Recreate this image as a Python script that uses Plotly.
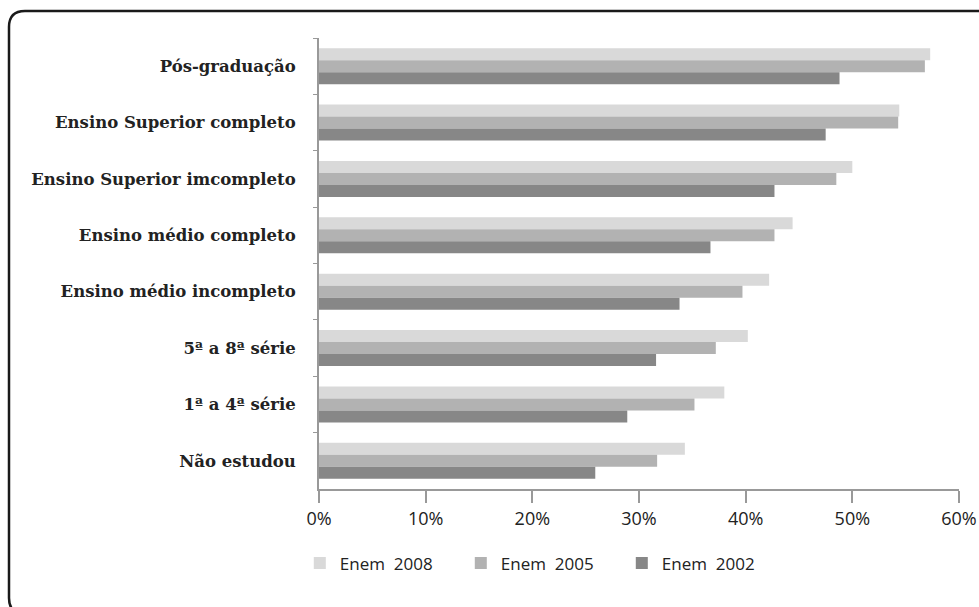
import plotly.graph_objects as go

# Escolaridade (de cima para baixo) e percentuais por edição do Enem
categorias = [
    "Pós-graduação",
    "Ensino Superior completo",
    "Ensino Superior imcompleto",
    "Ensino médio completo",
    "Ensino médio incompleto",
    "5ª a 8ª série",
    "1ª a 4ª série",
    "Não estudou",
]
enem_2008 = [57.3, 54.4, 50.0, 44.4, 42.2, 40.2, 38.0, 34.3]
enem_2005 = [56.8, 54.3, 48.5, 42.7, 39.7, 37.2, 35.2, 31.7]
enem_2002 = [48.8, 47.5, 42.7, 36.7, 33.8, 31.6, 28.9, 25.9]

series = [
    ("Enem  2008", enem_2008, "#d9d9d9"),
    ("Enem  2005", enem_2005, "#b2b2b2"),
    ("Enem  2002", enem_2002, "#878787"),
]

W, H = 979, 607
L, R, T, B = 319, 20, 38, 118

fig = go.Figure()
for nome, valores, cor in series:
    fig.add_trace(go.Bar(
        y=categorias, x=valores, name=nome, orientation="h",
        marker=dict(color=cor, line=dict(width=0)),
    ))

# moldura arredondada (aberta à direita e embaixo), pixels -> coordenadas paper
pw, ph = W - L - R, H - T - B


def px(x):
    return (x - L) / pw


def py(y):
    return (H - B - y) / ph


xe, yt, yb, rr = 9, 11, 614, 16
caminho = (
    f"M {px(1000)} {py(yt)} L {px(xe + rr)} {py(yt)} "
    f"Q {px(xe)} {py(yt)} {px(xe)} {py(yt + rr)} "
    f"L {px(xe)} {py(yb - rr)} "
    f"Q {px(xe)} {py(yb)} {px(xe + rr)} {py(yb)} "
    f"L {px(1000)} {py(yb)}"
)

fig.update_layout(
    width=W, height=H,
    margin=dict(l=L, r=R, t=T, b=B, autoexpand=False),
    paper_bgcolor="white", plot_bgcolor="white",
    barmode="group", bargap=0.36, bargroupgap=0,
    showlegend=True,
    legend=dict(
        orientation="h", x=-0.03, y=-0.125, xanchor="left", yanchor="top",
        entrywidth=116, entrywidthmode="pixels",
        font=dict(family="Open Sans", size=17, color="#222"),
        traceorder="normal",
    ),
    shapes=[dict(
        type="path", xref="paper", yref="paper", path=caminho,
        line=dict(color="#1a1a1a", width=2.5), fillcolor="rgba(0,0,0,0)",
        layer="below",
    )],
    xaxis=dict(
        range=[0, 60], tickvals=[0, 10, 20, 30, 40, 50, 60],
        ticktext=["0%", "10%", "20%", "30%", "40%", "50%", "60%"],
        showgrid=False, zeroline=False,
        showline=True, linecolor="#999", linewidth=2,
        ticks="outside", ticklen=12, tickcolor="#999", tickwidth=2,
        tickfont=dict(family="Open Sans", size=18, color="#222"),
    ),
    yaxis=dict(
        autorange="reversed", showgrid=False, zeroline=False,
        showline=True, linecolor="#999", linewidth=2,
        ticks="outside", ticklen=4, tickcolor="#999", tickson="boundaries",
        ticklabelstandoff=18,
        tickfont=dict(family="DejaVu Serif", size=16.5, color="#222", weight="bold"),
    ),
)

fig.write_html("out.html")
